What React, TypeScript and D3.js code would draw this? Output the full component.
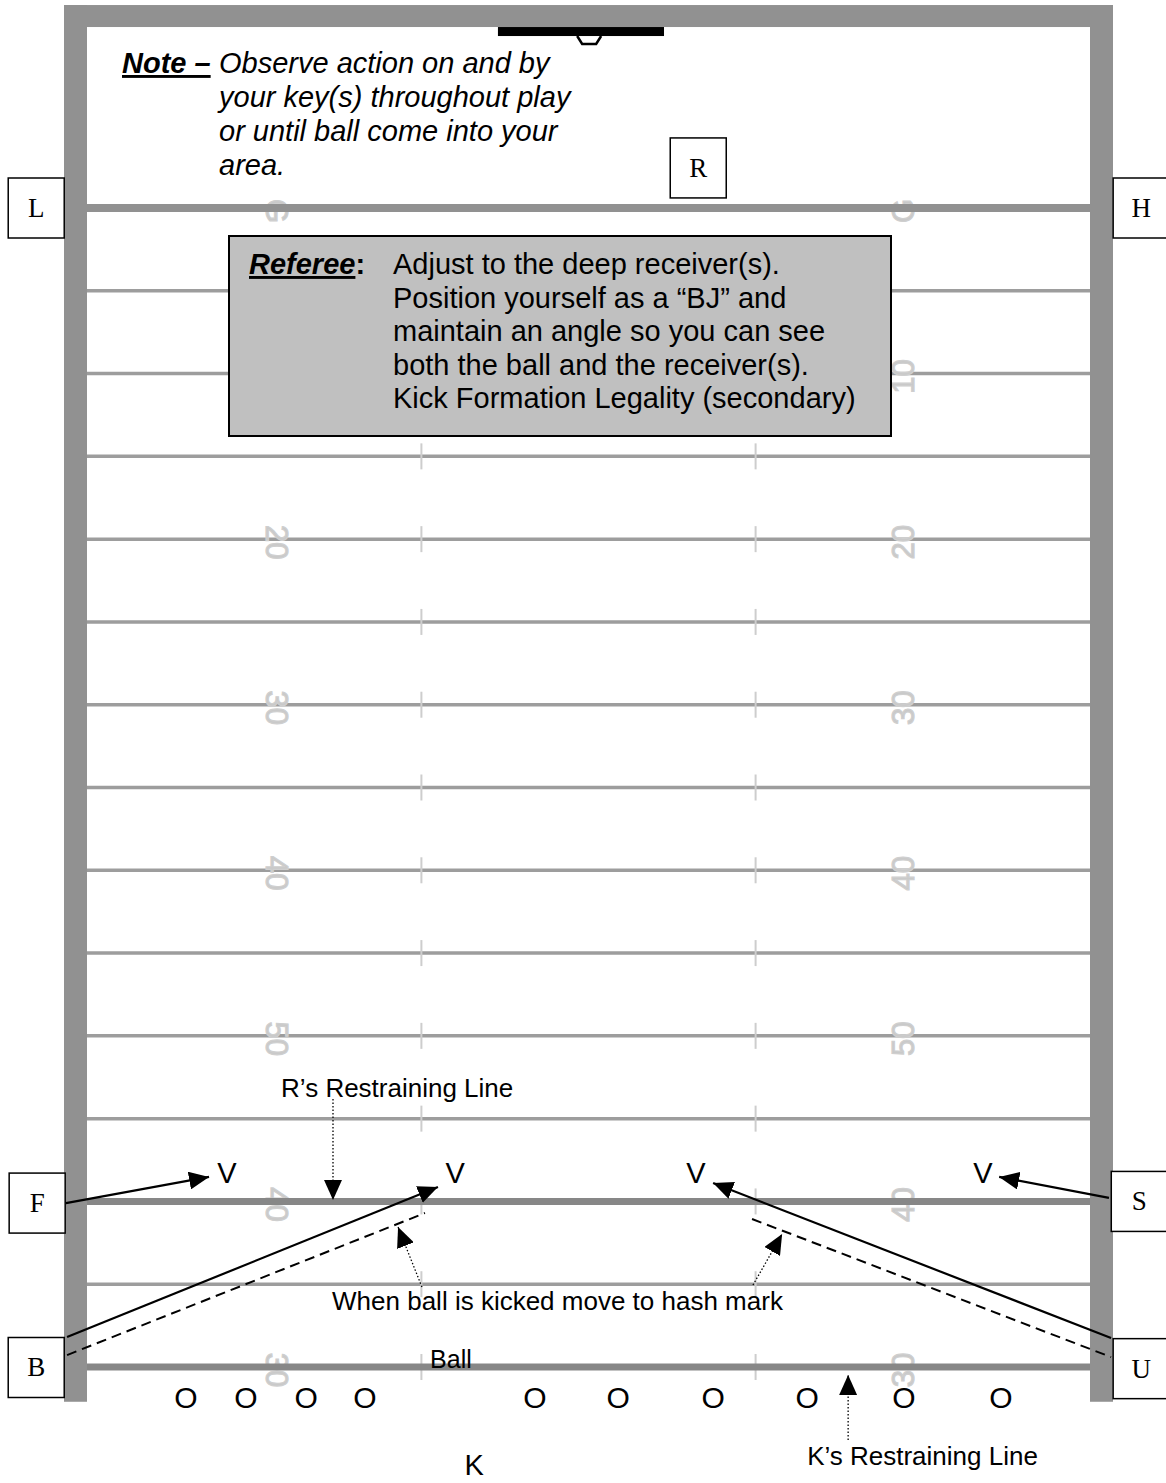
import React from 'react';
import * as d3 from 'd3';

// field coordinates are in yards: x across from the left sideline, y down from the goal line
const yardLines = [0, 5, 10, 15, 20, 25, 30, 35, 40, 45, 50, 55, 60, 65, 70];
const thickLines = [60, 70]; // R's restraining line, ball line
const hashMarks = [17.78, 35.55];
const hashLines = [15, 20, 25, 30, 35, 40, 45, 50, 55, 60, 65, 70];
const numberYards = [0, 10, 20, 30, 40, 50, 60, 70];
const numberLabels = ['G', '10', '20', '30', '40', '50', '40', '30'];

const officials = [
    { id: 'L', x: -2.7, y: 0 },
    { id: 'H', x: 56.05, y: 0 },
    { id: 'R', x: 32.5, y: -2.42 },
    { id: 'F', x: -2.65, y: 60.1 },
    { id: 'S', x: 55.95, y: 60.0 },
    { id: 'B', x: -2.7, y: 70.03 },
    { id: 'U', x: 56.05, y: 70.1 },
];

const receivers = [7.44, 19.57, 32.38, 47.64]; // "V"
const receiverRow = 58.89;
const kickers = [5.26, 8.45, 11.65, 14.78, 23.82, 28.24, 33.29, 38.29, 43.44, 48.6]; // "O"
const kickerRow = 72.48;

const moves = [
    { from: [-1.12, 60.1], to: [6.49, 58.52] },
    { from: [-1.06, 68.19], to: [18.66, 59.13] },
    { from: [54.45, 68.25], to: [33.29, 58.89] },
    { from: [54.34, 59.79], to: [48.5, 58.52] },
];
const hashMoves = [
    { from: [-1.06, 69.28], to: [17.97, 60.7] },
    { from: [35.36, 61.06], to: [54.45, 69.4] },
];
const pointers = [
    { from: [13.08, 53.81], to: [13.08, 59.91] },
    { from: [17.81, 65.17], to: [16.54, 61.55] },
    { from: [35.41, 65.05], to: [36.96, 61.97] },
    { from: [40.47, 74.41], to: [40.47, 70.48] },
];
const labels = [
    { text: 'R\u2019s Restraining Line', x: 10.32, y: 53.69, size: 26 },
    { text: 'When ball is kicked move to hash mark', x: 13.03, y: 66.56, size: 26 },
    { text: 'Ball', x: 18.24, y: 70.06, size: 25 },
    { text: 'K\u2019s Restraining Line', x: 38.29, y: 75.92, size: 26 },
];
const kicker = { text: 'K', x: 20.58, y: 76.55 };

const goalPost = [21.85, 30.68];

const noteLines = [
    'Observe action on and by',
    'your key(s) throughout play',
    'or until ball come into your',
    'area.',
];
const refereeLines = [
    'Adjust to the deep receiver(s).',
    'Position yourself as a \u201CBJ\u201D and',
    'maintain an angle so you can see',
    'both the ball and the receiver(s).',
    'Kick Formation Legality (secondary)',
];

const App = () => {
    const width = 1166;
    const height = 1483;

    const x = d3.scaleLinear().domain([0, 53.33]).range([87, 1090]);
    const y = d3.scaleLinear().domain([0, 70]).range([208, 1367]);

    const sans = '"Liberation Sans", Arial, sans-serif';
    const serif = '"Liberation Serif", "Times New Roman", serif';
    const frame = '#919191';
    const side = 23;
    const endLine = -10.93;
    const bottom = 72.1;

    const line = d3.line<number[]>().x(d => x(d[0])).y(d => y(d[1]));

    return (
        <svg width={width} height={height} style={{ position: 'absolute', left: 0, top: 0 }}>
            <defs>
                <marker id="ah" viewBox="0 0 20 18" refX={20} refY={9} markerWidth={20} markerHeight={18}
                        markerUnits="userSpaceOnUse" orient="auto">
                    <path d="M0,0 L20,9 L0,18 Z" fill="#000" />
                </marker>
            </defs>
            <rect width={width} height={height} fill="#fff" />

            {/* yard lines */}
            {yardLines.filter(d => d !== 0 && !thickLines.includes(d)).map(d => (
                <line key={d} x1={x(0)} x2={x(53.33)} y1={y(d)} y2={y(d)} stroke="#9d9d9d" strokeWidth={3.5} />
            ))}
            {hashLines.map(d => hashMarks.map(h => (
                <line key={d + '-' + h} x1={x(h)} x2={x(h)} y1={y(d) - 13} y2={y(d) + 13} stroke="#cdcdcd" strokeWidth={2} />
            )))}

            {/* yard numbers */}
            {numberYards.map((d, i) => (
                <g key={d} fontFamily={sans} fontSize={31} fill="#c9c9c9" stroke="#cfcfcf" strokeWidth={1.2}>
                    <text transform={`translate(${x(10.05)},${y(d) + 3}) rotate(90)`} textAnchor="middle"
                          dominantBaseline="central">{numberLabels[i]}</text>
                    <text transform={`translate(${x(43.4)},${y(d) + 3}) rotate(-90)`} textAnchor="middle"
                          dominantBaseline="central">{numberLabels[i]}</text>
                </g>
            ))}

            {/* goal line and thick lines */}
            <line x1={x(0)} x2={x(53.33)} y1={y(0)} y2={y(0)} stroke={frame} strokeWidth={8} />
            {thickLines.map(d => (
                <line key={d} x1={x(0)} x2={x(53.6)} y1={y(d)} y2={y(d)} stroke="#878787" strokeWidth={7} />
            ))}

            {/* frame */}
            <rect x={x(0) - side} y={y(endLine) - 22} width={x(53.33) - x(0) + 2 * side} height={22} fill={frame} />
            <rect x={x(0) - side} y={y(endLine) - 22} width={side} height={y(bottom) - y(endLine) + 22} fill={frame} />
            <rect x={x(53.33)} y={y(endLine) - 22} width={side} height={y(bottom) - y(endLine) + 22} fill={frame} />

            {/* goal post */}
            <rect x={x(goalPost[0])} y={y(endLine)} width={x(goalPost[1]) - x(goalPost[0])} height={9} fill="#000" />
            <path d={`M${x(26.7) - 12},${y(endLine) + 9} l5,8 h14 l5,-8`} fill="none" stroke="#000" strokeWidth={2.5} />

            {/* note */}
            <text fontFamily={sans} fontSize={29} fontStyle="italic" fill="#000">
                <tspan x={122} y={73} fontWeight="bold" style={{ textDecoration: 'underline' }}>Note –</tspan>
                {noteLines.map((t, i) => (
                    <tspan key={i} x={219} y={73 + i * 34}>{t}</tspan>
                ))}
            </text>

            {/* referee box */}
            <rect x={229} y={236} width={662} height={200} fill="#c0c0c0" stroke="#000" strokeWidth={2} />
            <text fontFamily={sans} fontSize={29} fill="#000">
                <tspan x={249} y={274} fontWeight="bold" fontStyle="italic" style={{ textDecoration: 'underline' }}>Referee</tspan>
                <tspan fontWeight="bold">:</tspan>
                {refereeLines.map((t, i) => (
                    <tspan key={i} x={393} y={274 + i * 33.5}>{t}</tspan>
                ))}
            </text>

            {/* officials */}
            {officials.map(o => (
                <g key={o.id}>
                    <rect x={x(o.x) - 28} y={y(o.y) - 30} width={56} height={60} fill="#fff" stroke="#000" strokeWidth={1.5} />
                    <text x={x(o.x)} y={y(o.y) + 9} textAnchor="middle" fontFamily={serif} fontSize={27} fill="#000">{o.id}</text>
                </g>
            ))}

            {/* movement */}
            {moves.map((m, i) => (
                <path key={i} d={line([m.from, m.to])} stroke="#000" strokeWidth={2.2} fill="none" markerEnd="url(#ah)" />
            ))}
            {hashMoves.map((m, i) => (
                <path key={i} d={line([m.from, m.to])} stroke="#000" strokeWidth={2} strokeDasharray="10 6" fill="none" />
            ))}
            {pointers.map((m, i) => (
                <path key={i} d={line([m.from, m.to])} stroke="#000" strokeWidth={1.3} strokeDasharray="1.5 2" fill="none" markerEnd="url(#ah)" />
            ))}

            {/* players */}
            {receivers.map((d, i) => (
                <text key={i} x={x(d)} y={y(receiverRow)} textAnchor="middle" fontFamily={sans} fontSize={29} fill="#000">V</text>
            ))}
            {kickers.map((d, i) => (
                <text key={i} x={x(d)} y={y(kickerRow)} textAnchor="middle" fontFamily={sans} fontSize={30} fill="#000">O</text>
            ))}
            <text x={x(kicker.x)} y={y(kicker.y)} textAnchor="middle" fontFamily={sans} fontSize={29} fill="#000">{kicker.text}</text>

            {labels.map((l, i) => (
                <text key={i} x={x(l.x)} y={y(l.y)} fontFamily={sans} fontSize={l.size} fill="#000">{l.text}</text>
            ))}
        </svg>
    );
};

export default App;
